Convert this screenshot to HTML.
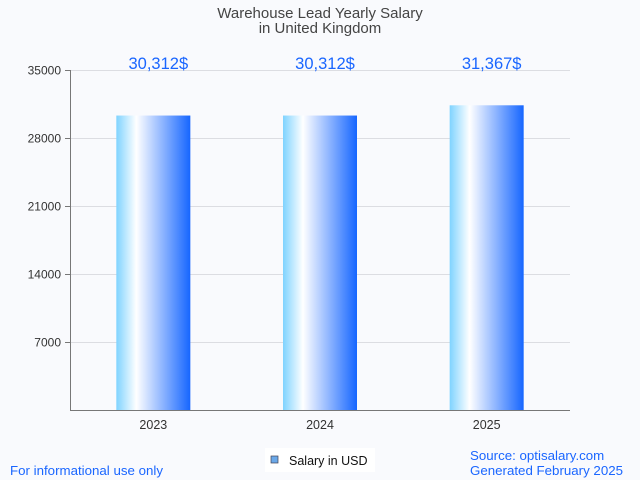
<!DOCTYPE html>
<html><head><meta charset="utf-8">
<style>
html,body{margin:0;padding:0;background:#f9fafd;}
svg{display:block;font-family:"Liberation Sans",sans-serif;}
</style></head>
<body>
<svg id="chart" width="640" height="480" viewBox="0 0 640 480" xmlns="http://www.w3.org/2000/svg">
<defs>
<linearGradient id="barGrad" x1="0" x2="1" y1="0" y2="0">
<stop offset="0" stop-color="#7fd3ff"/>
<stop offset="0.27" stop-color="#ffffff"/>
<stop offset="1" stop-color="#1666ff"/>
</linearGradient>
</defs>
<rect width="640" height="480" fill="#f9fafd"/>
<text x="320" y="18" text-anchor="middle" font-size="15" fill="#444">Warehouse Lead Yearly Salary</text>
<text x="320" y="33" text-anchor="middle" font-size="15" fill="#444">in United Kingdom</text>
<g id="grid"></g>
<g id="bars"></g>
<g id="labels"></g>
<line x1="70.5" y1="70" x2="70.5" y2="410.5" stroke="#777"/>
<line x1="70" y1="410.5" x2="570" y2="410.5" stroke="#777"/>
<g>
<rect x="265" y="448" width="110" height="24" fill="#fff"/>
<rect x="271" y="456" width="7" height="7" fill="#6aa8e8" stroke="#445" stroke-width="0.7"/>
<text x="289" y="465" font-size="12.5" fill="#111">Salary in USD</text>
</g>
<text x="10" y="475" font-size="13.3" fill="#1a66ff">For informational use only</text>
<text x="470" y="460" font-size="13.3" fill="#1a66ff">Source: optisalary.com</text>
<text x="470" y="475" font-size="13.3" fill="#1a66ff">Generated February 2025</text>
</svg>
<script>
const categories = ["2023", "2024", "2025"];
const salaries = [30312, 30312, 31367];
const valueLabels = ["30,312$", "30,312$", "31,367$"];
const yTicks = [7000, 14000, 21000, 28000, 35000];

const NS = "http://www.w3.org/2000/svg";
const plot = {left: 70, right: 570, top: 70, bottom: 410};
const yMax = 35000;
function yScale(v){ return plot.bottom - v / yMax * (plot.bottom - plot.top); }
const band = (plot.right - plot.left) / categories.length;
function xCenter(i){ return plot.left + band * (i + 0.5); }
const barW = 74;

function mk(tag, attrs, parent){
  const e = document.createElementNS(NS, tag);
  for (const k in attrs) e.setAttribute(k, attrs[k]);
  parent.appendChild(e);
  return e;
}
const grid = document.getElementById("grid");
const bars = document.getElementById("bars");
const labels = document.getElementById("labels");

yTicks.forEach(t => {
  const y = Math.round(yScale(t)) + 0.5;
  const gl = mk("line", {x1: plot.left, x2: plot.right, y1: y, y2: y, stroke: "#dcdde2"}, grid);
  
  
  const tk = mk("line", {x1: 65, x2: 70, y1: y, y2: y, stroke: "#777"}, grid);
  
  
  const tl = mk("text", {x: 61, y: y + 4, "text-anchor": "end", "font-size": 12, fill: "#333"}, grid);
  tl.textContent = t;
  
  
});

categories.forEach((c, i) => {
  const cx = xCenter(i);
  const y = yScale(salaries[i]);
  const r = mk("rect", {x: cx - barW / 2, y: y, width: barW, height: plot.bottom - y, fill: "url(#barGrad)"}, bars);
  
  
  const v = mk("text", {x: cx + 5, y: 69, "text-anchor": "middle", "font-size": 16.5, fill: "#1a66ff"}, labels);
  v.textContent = valueLabels[i];
  
  
  const xl = mk("text", {x: cx, y: 429, "text-anchor": "middle", "font-size": 12.5, fill: "#333"}, labels);
  xl.textContent = c;
  
  
});
</script>
</body></html>
